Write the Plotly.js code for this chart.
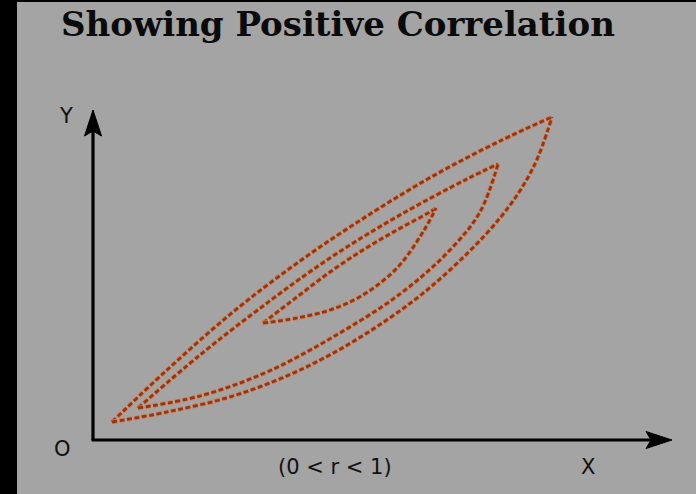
<!DOCTYPE html>
<html>
<head>
<meta charset="utf-8">
<script src="https://cdn.plot.ly/plotly-3.0.1.min.js"></script>
<style>html,body{margin:0;padding:0;background:#a4a4a4;}#chart{width:696px;height:494px;}</style>
</head>
<body>
<div id="chart"></div>
<script>
// Data (axis units; origin at O)
const outerUpperX = [0.38, 1.48, 2.80, 4.14, 5.48, 6.80, 8.14, 9.18];
const outerUpperY = [0.36, 1.40, 2.56, 3.58, 4.48, 5.28, 5.98, 6.46];
const outerLowerX = [0.38, 1.48, 2.80, 4.14, 5.48, 6.80, 8.14, 8.80, 9.18];
const outerLowerY = [0.36, 0.56, 0.88, 1.40, 2.14, 3.10, 4.44, 5.44, 6.46];

const middleUpperX = [0.90, 2.14, 3.48, 4.80, 6.14, 7.48, 8.10];
const middleUpperY = [0.64, 1.70, 2.74, 3.68, 4.50, 5.22, 5.52];
const middleLowerX = [0.90, 2.14, 3.48, 4.80, 6.14, 7.14, 7.74, 8.10];
const middleLowerY = [0.64, 0.88, 1.36, 2.06, 2.92, 3.80, 4.56, 5.52];

const innerUpperX = [3.40, 4.08, 4.74, 5.40, 6.08, 6.74, 6.86];
const innerUpperY = [2.34, 2.86, 3.36, 3.80, 4.20, 4.56, 4.64];
const innerLowerX = [3.40, 4.08, 4.74, 5.40, 6.08, 6.60, 6.86];
const innerLowerY = [2.34, 2.44, 2.60, 2.90, 3.44, 4.16, 4.64];

const titleText = "Showing Positive Correlation";
const xLabel = "X";
const yLabel = "Y";
const originLabel = "O";
const rLabel = "(0 < r < 1)";

const xAxisEnd = 11.58;
const yAxisEnd = 6.60;

const curves = [
  [outerUpperX, outerUpperY], [outerLowerX, outerLowerY],
  [middleUpperX, middleUpperY], [middleLowerX, middleLowerY],
  [innerUpperX, innerUpperY], [innerLowerX, innerLowerY]
];

const traces = [];
curves.forEach(c => {
  traces.push({x: c[0], y: c[1], mode: 'lines', hoverinfo: 'skip', showlegend: false,
    line: {shape: 'spline', smoothing: 1, color: '#d4804d', width: 4.6, dash: '5px,2.5px'}});
  traces.push({x: c[0], y: c[1], mode: 'lines', hoverinfo: 'skip', showlegend: false,
    line: {shape: 'spline', smoothing: 1, color: '#983412', width: 2.8, dash: '5px,2.5px'}});
});

const W = 696, H = 494;
const unit = 50; // px per axis unit
const ox = 93, oy = 440;
const xr = [-ox / unit, (W - ox) / unit];
const yr = [-(H - oy) / unit, oy / unit];

const layout = {
  width: W, height: H,
  margin: {l: 0, r: 0, t: 0, b: 0},
  paper_bgcolor: '#a4a4a4',
  plot_bgcolor: 'rgba(0,0,0,0)',
  xaxis: {range: xr, visible: false, fixedrange: true},
  yaxis: {range: yr, visible: false, fixedrange: true},
  shapes: [
    {type: 'rect', xref: 'paper', yref: 'paper', x0: 0, x1: 17 / W, y0: 0, y1: 1,
      fillcolor: '#000', line: {width: 0}, layer: 'below'},
    {type: 'rect', xref: 'paper', yref: 'paper', x0: 0, x1: 1, y0: 1 - 2 / H, y1: 1,
      fillcolor: '#000', line: {width: 0}, layer: 'below'},
    {type: 'line', xref: 'x', yref: 'y', x0: -0.03, y0: 0, x1: xAxisEnd - 0.4, y1: 0,
      line: {color: '#000', width: 3.2}},
    {type: 'line', xref: 'x', yref: 'y', x0: 0, y0: 0, x1: 0, y1: yAxisEnd - 0.4,
      line: {color: '#000', width: 3.2}},
    {type: 'path', xref: 'x', yref: 'y', xsizemode: 'pixel', ysizemode: 'pixel',
      xanchor: xAxisEnd, yanchor: 0,
      path: 'M0,0 L-26,8.5 L-21,0 L-26,-8.5 Z', fillcolor: '#000', line: {color: '#000', width: 1}},
    {type: 'path', xref: 'x', yref: 'y', xsizemode: 'pixel', ysizemode: 'pixel',
      xanchor: 0, yanchor: yAxisEnd,
      path: 'M0,0 L-8.5,-26 L0,-21 L8.5,-26 Z', fillcolor: '#000', line: {color: '#000', width: 1}}
  ],
  annotations: [
    {text: '<b>' + titleText + '</b>', xref: 'paper', yref: 'paper', x: 59 / W, y: 1 - 2 / H,
      xanchor: 'left', yanchor: 'top', showarrow: false,
      font: {family: 'DejaVu Serif', size: 34, color: '#0a0a0a'}},
    {text: yLabel, xref: 'x', yref: 'y', x: -0.54, y: 6.48, showarrow: false,
      font: {family: 'DejaVu Sans', size: 21, color: '#111'}},
    {text: originLabel, xref: 'x', yref: 'y', x: -0.62, y: -0.18, showarrow: false,
      font: {family: 'DejaVu Sans', size: 21, color: '#111'}},
    {text: xLabel, xref: 'x', yref: 'y', x: 9.9, y: -0.54, showarrow: false,
      font: {family: 'DejaVu Sans', size: 21, color: '#111'}},
    {text: rLabel, xref: 'x', yref: 'y', x: 4.84, y: -0.54, showarrow: false,
      font: {family: 'DejaVu Sans', size: 21, color: '#111'}}
  ]
};

Plotly.newPlot('chart', traces, layout, {staticPlot: true, displayModeBar: false});
</script>
</body>
</html>
